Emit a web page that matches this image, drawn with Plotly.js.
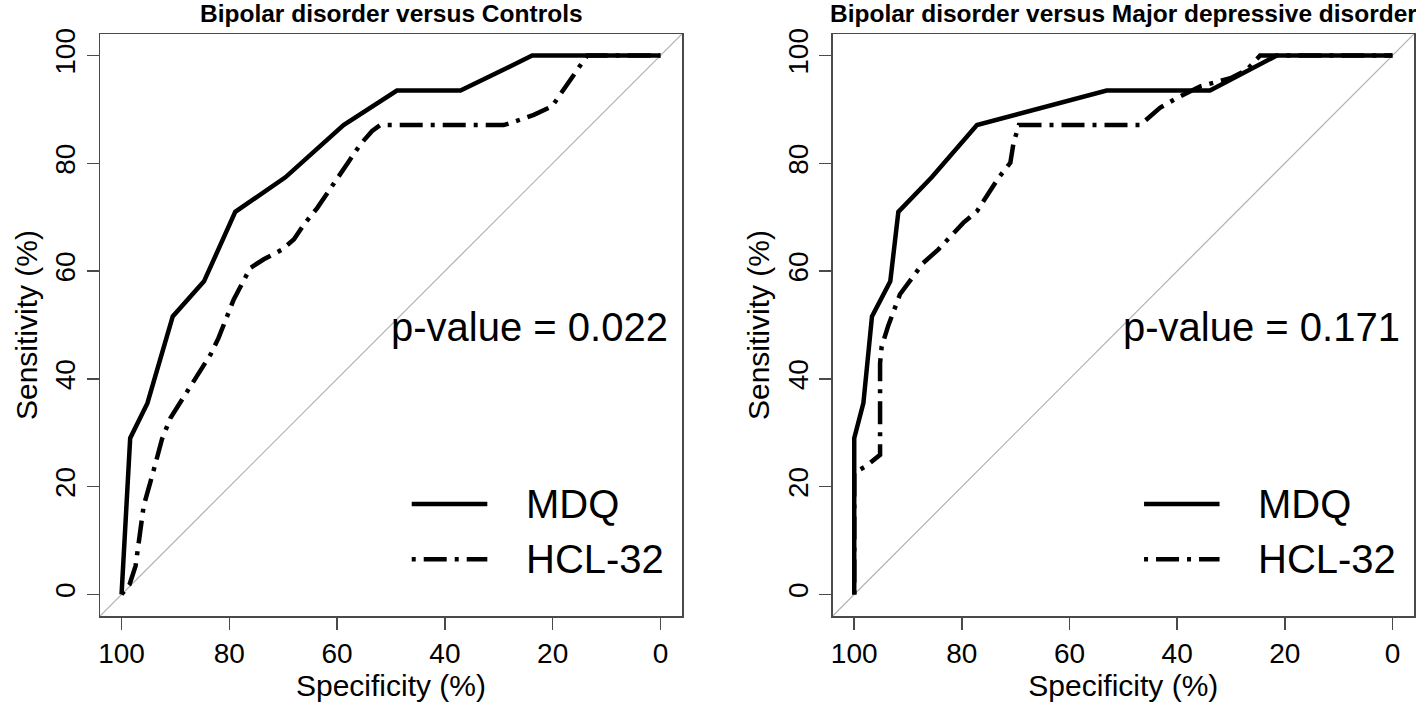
<!DOCTYPE html>
<html>
<head>
<meta charset="utf-8">
<script src="https://cdn.plot.ly/plotly-3.0.1.min.js"></script>
<style>html,body{margin:0;padding:0;background:#fff}#chart{width:1416px;height:704px}</style>
</head>
<body>
<div id="chart"></div>
<script>
// Panel titles
const panelTitles = ["Bipolar disorder versus Controls", "Bipolar disorder versus Major depressive disorder"];
const pValues = ["p-value = 0.022", "p-value = 0.171"];
const seriesNames = ["MDQ", "HCL-32"];
const tickValues = [100, 80, 60, 40, 20, 0];

// Left panel: Bipolar vs Controls
const leftMdqSpec = [100, 98.4, 95.2, 90.5, 84.7, 78.9, 69.6, 58.8, 48.9, 37.1, 23.8, 0];
const leftMdqSens = [0, 29.0, 35.5, 51.6, 58.1, 71.0, 77.4, 87.1, 93.5, 93.5, 100, 100];
const leftHclSpec = [100, 98.5, 97.4, 96.8, 96.5, 95.9, 94.0, 92.5, 90.9, 89.1, 87.2, 85.3, 83.5, 82.0, 80.7, 79.2, 76.1, 73.6, 70.2, 68.0, 66.2, 63.7, 61.8, 60.0, 57.8, 55.7, 53.5, 52.0, 29.1, 26.9, 23.5, 20.1, 18.2, 16.1, 13.6, 0];
const leftHclSens = [0, 1.9, 5.3, 9.6, 12.7, 16.4, 23.2, 28.8, 32.8, 35.6, 38.6, 41.7, 44.5, 47.6, 51.0, 54.7, 60.6, 62.2, 64.0, 65.9, 68.6, 71.7, 74.5, 77.3, 80.4, 83.5, 86.0, 87.1, 87.1, 87.8, 89.0, 90.6, 93.4, 96.2, 100, 100];

// Right panel: Bipolar vs MDD
const rightMdqSpec = [100, 100, 98.3, 96.7, 93.3, 91.8, 85.6, 77.2, 53.1, 33.9, 21.5, 0];
const rightMdqSens = [0, 29.0, 35.5, 51.6, 58.1, 71.0, 77.4, 87.1, 93.5, 93.5, 100, 100];
const rightHclSpec = [100, 100, 97.8, 95.6, 95.2, 95.2, 94.9, 93.7, 92.4, 91.5, 87.2, 84.4, 79.7, 77.2, 73.2, 71.0, 70.4, 69.4, 46.9, 43.2, 40.1, 35.7, 30.1, 27.0, 24.6, 0];
const rightHclSens = [0, 22.6, 23.8, 25.4, 25.9, 42.9, 46.0, 49.8, 53.2, 55.7, 61.5, 64.0, 69.0, 71.1, 77.3, 80.1, 83.8, 87.1, 87.1, 90.3, 92.1, 94.3, 95.8, 97.4, 100, 100];

// Chance diagonal (ends of the axis range)
const diagSpec = [104, -4];
const diagSens = [-4, 104];

const FONT = "Liberation Sans, Arial, Helvetica, sans-serif";
const DASHDOT = "4px,8px,23px,8px";
const LW = 4.5;

function rocTrace(x, y, name, dash, xa, ya) {
  return {x: x, y: y, name: name, type: "scatter", mode: "lines", xaxis: xa, yaxis: ya,
    line: {color: "#000", width: LW, dash: dash}, showlegend: false, hoverinfo: "skip"};
}

const traces = [
  {x: diagSpec, y: diagSens, type: "scatter", mode: "lines", xaxis: "x", yaxis: "y", line: {color: "#b0b0b0", width: 1.2}, showlegend: false, hoverinfo: "skip"},
  {x: diagSpec, y: diagSens, type: "scatter", mode: "lines", xaxis: "x2", yaxis: "y2", line: {color: "#b0b0b0", width: 1.2}, showlegend: false, hoverinfo: "skip"},
  rocTrace(leftHclSpec, leftHclSens, seriesNames[1], DASHDOT, "x", "y"),
  rocTrace(leftMdqSpec, leftMdqSens, seriesNames[0], "solid", "x", "y"),
  rocTrace(rightHclSpec, rightHclSens, seriesNames[1], DASHDOT, "x2", "y2"),
  rocTrace(rightMdqSpec, rightMdqSens, seriesNames[0], "solid", "x2", "y2")
];

function xAxis(domain, anchor) {
  return {domain: domain, anchor: anchor, range: [104, -4], tickvals: tickValues, ticktext: tickValues.map(String),
    showline: true, linecolor: "#4a4a4a", linewidth: 1.5, mirror: true, ticks: "outside", ticklen: 12, tickwidth: 1.5, tickcolor: "#4a4a4a",
    showgrid: false, zeroline: false, tickfont: {family: FONT, size: 28, color: "#000"},
    title: {text: "Specificity (%)", font: {family: FONT, size: 30, color: "#000"}, standoff: 4}};
}
function yAxis(anchor) {
  return {domain: [0, 1], anchor: anchor, range: [-4, 104], tickvals: tickValues, ticktext: tickValues.map(String),
    showline: true, linecolor: "#4a4a4a", linewidth: 1.5, mirror: true, ticks: "outside", ticklen: 12, tickwidth: 1.5, tickcolor: "#4a4a4a",
    showgrid: false, zeroline: false, tickangle: -90, tickfont: {family: FONT, size: 28, color: "#000"},
    title: {text: "Sensitivity (%)", font: {family: FONT, size: 30, color: "#000"}, standoff: 4}};
}

const xdomL = [0, 582 / 1314];
const xdomR = [732.7 / 1314, 1];

const annotations = [];
const shapes = [];
[["x", "y", xdomL], ["x2", "y2", xdomR]].forEach(function (p, i) {
  const xa = p[0], ya = p[1];
  annotations.push({xref: xa + " domain", yref: "paper", x: 0.5, y: 1, xanchor: "center", yanchor: "bottom", yshift: 5,
    text: "<b>" + panelTitles[i] + "</b>", showarrow: false, font: {family: FONT, size: 24.5, color: "#000"}});
  annotations.push({xref: xa + " domain", yref: ya + " domain", x: 0.979, y: 0.497, xanchor: "right", yanchor: "middle",
    text: pValues[i], showarrow: false, font: {family: FONT, size: 40, color: "#000"}});
  const legY = [0.1924, 0.0974];
  const legDash = ["solid", DASHDOT];
  for (let k = 0; k < 2; k++) {
    shapes.push({type: "line", xref: xa + " domain", yref: ya + " domain", x0: 0.5356, x1: 0.6655, y0: legY[k], y1: legY[k],
      line: {color: "#000", width: LW, dash: legDash[k]}});
    annotations.push({xref: xa + " domain", yref: ya + " domain", x: 0.728, y: legY[k], xanchor: "left", yanchor: "middle",
      text: seriesNames[k], showarrow: false, font: {family: FONT, size: 40, color: "#000"}});
  }
});

const layout = {
  width: 1416, height: 704,
  margin: {l: 100, r: 2, t: 34, b: 88, pad: 0},
  paper_bgcolor: "#fff", plot_bgcolor: "#fff",
  font: {family: FONT, color: "#000"},
  showlegend: false,
  xaxis: xAxis(xdomL, "y"),
  yaxis: yAxis("x"),
  xaxis2: xAxis(xdomR, "y2"),
  yaxis2: yAxis("x2"),
  annotations: annotations,
  shapes: shapes
};

Plotly.newPlot("chart", traces, layout, {staticPlot: true, displayModeBar: false});
</script>
</body>
</html>
